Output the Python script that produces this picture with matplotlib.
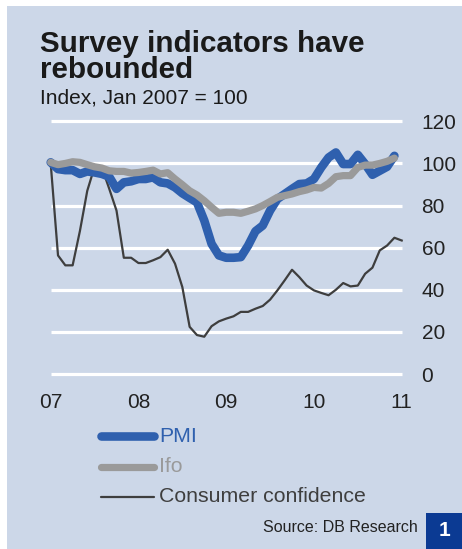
#!/usr/bin/env python3
"""Survey indicators chart (PMI, Ifo, consumer confidence)."""

import matplotlib
matplotlib.use('Agg')
import matplotlib.pyplot as plt
from matplotlib.patches import Rectangle

plt.rcParams['font.family'] = ['Liberation Sans', 'DejaVu Sans']

W, H = 462, 549
DPI = 100
BG = '#CCD7E8'
BLUE = '#2F60AE'
GREY = '#9A9A9A'
DARK = '#3E3E3E'

# monthly data, Jan 2007 onwards
pmi = [100.5, 97.3, 96.8, 96.8, 95.0, 96.2, 95.7, 95.0, 93.7, 87.9, 91.0, 91.5,
       92.6, 92.6, 93.4, 91.0, 90.5, 88.6, 85.8, 83.6, 81.5, 72.9, 61.8, 56.3,
       55.2, 55.2, 55.5, 61.0, 67.8, 70.5, 77.6, 83.1, 85.5, 87.9, 90.2, 90.5,
       92.6, 98.1, 102.8, 105.2, 99.7, 99.7, 104.1, 99.7, 94.6, 96.5, 98.4, 103.6]
ifo = [100.5, 99.4, 100.0, 100.8, 100.5, 99.4, 98.4, 97.8, 96.5, 96.2, 96.2, 95.4,
       95.7, 96.2, 96.8, 95.0, 95.6, 92.6, 89.9, 87.0, 85.0, 82.3, 79.2, 76.3,
       76.8, 76.8, 76.3, 77.3, 78.4, 80.0, 81.9, 83.9, 84.7, 85.5, 86.6, 87.4,
       88.6, 88.3, 90.5, 93.7, 94.2, 94.2, 98.1, 99.2, 99.2, 100.0, 101.0, 102.5]
consumer = [100.0, 56.3, 51.6, 51.6, 68.0, 87.0, 98.4, 98.0, 88.0, 77.6, 55.2, 55.2,
            52.7, 52.7, 54.0, 55.5, 59.0, 52.4, 41.3, 22.4, 18.5, 17.7, 22.7, 25.0,
            26.3, 27.4, 29.5, 29.5, 31.0, 32.3, 35.3, 39.7, 44.5, 49.5, 46.0, 42.0,
            39.7, 38.5, 37.4, 40.0, 43.2, 41.6, 42.0, 47.6, 50.5, 58.7, 61.0, 64.7,
            63.4]
year_ticks = [0, 12, 24, 36, 48]
year_labels = ['07', '08', '09', '10', '11']
y_ticks = [0, 20, 40, 60, 80, 100, 120]

fig = plt.figure(figsize=(W / DPI, H / DPI), dpi=DPI, facecolor='white')

# panel background
fig.patches.append(Rectangle((7 / W, 0), 1 - 7 / W, 1 - 6 / H,
                             transform=fig.transFigure, fc=BG, ec='none',
                             zorder=-10))

# axes placement in pixels
px_month = (401.7 - 50.7) / 48
x0, x1 = 50.7 - px_month, 401.7 + px_month
py_unit = (374 - 121.3) / 120
y_bot = 374 + 3 * py_unit
y_top = 121.3 - 3 * py_unit
ax = fig.add_axes([x0 / W, 1 - y_bot / H, (x1 - x0) / W, (y_bot - y_top) / H],
                  zorder=5)
ax.set_facecolor('none')
ax.set_xlim(-1, 49)
ax.set_ylim(-3, 123)
for s in ax.spines.values():
    s.set_visible(False)

ax.hlines(y_ticks, 0, 48, colors='white', lw=2.3, zorder=1)

ax.plot(range(len(consumer)), consumer, color=DARK, lw=1.6, zorder=2,
        solid_joinstyle='round')
ax.plot(range(len(ifo)), ifo, color=GREY, lw=5.2, zorder=3,
        solid_capstyle='round', solid_joinstyle='round')
ax.plot(range(len(pmi)), pmi, color=BLUE, lw=6.2, zorder=2.5,
        solid_capstyle='round', solid_joinstyle='round')

ax.set_xticks(year_ticks)
ax.set_xticklabels(year_labels)
ax.set_yticks(y_ticks)
ax.yaxis.tick_right()
ax.tick_params(length=0, labelsize=15, colors='#222222')
ax.tick_params(axis='x', pad=9)
ax.tick_params(axis='y', pad=9)

# titles
fig.text(40 / W, 1 - 52 / H, 'Survey indicators have', fontsize=21.3,
         fontweight='bold', color='#1a1a1a', va='baseline')
fig.text(40 / W, 1 - 78 / H, 'rebounded', fontsize=21.3,
         fontweight='bold', color='#1a1a1a', va='baseline')
fig.text(40 / W, 1 - 103 / H, 'Index, Jan 2007 = 100', fontsize=15,
         color='#1a1a1a', va='baseline')

# legend
legend = [('PMI', BLUE, BLUE, 6.2, 436),
          ('Ifo', GREY, GREY, 5.2, 467),
          ('Consumer confidence', DARK, DARK, 1.6, 497)]
for label, lc, tc, lw, yp in legend:
    fig.add_artist(plt.Line2D([101 / W, 154 / W], [1 - yp / H, 1 - yp / H],
                              color=lc, lw=lw, solid_capstyle='round',
                              transform=fig.transFigure))
    fig.text(159 / W, 1 - yp / H, label, fontsize=15.3, color=tc,
             va='center', ha='left')

fig.text(418 / W, 1 - 532 / H, 'Source: DB Research', fontsize=11.5,
         color='#222222', ha='right', va='baseline')

fig.patches.append(Rectangle((425.7 / W, 0), 1 - 425.7 / W, 36.3 / H,
                             transform=fig.transFigure, fc='#0B3A93',
                             ec='none', zorder=1))
fig.text(444 / W, 1 - 531 / H, '1', fontsize=15, fontweight='bold',
         color='white', ha='center', va='center')

fig.savefig('out.png', dpi=DPI, facecolor='white')
